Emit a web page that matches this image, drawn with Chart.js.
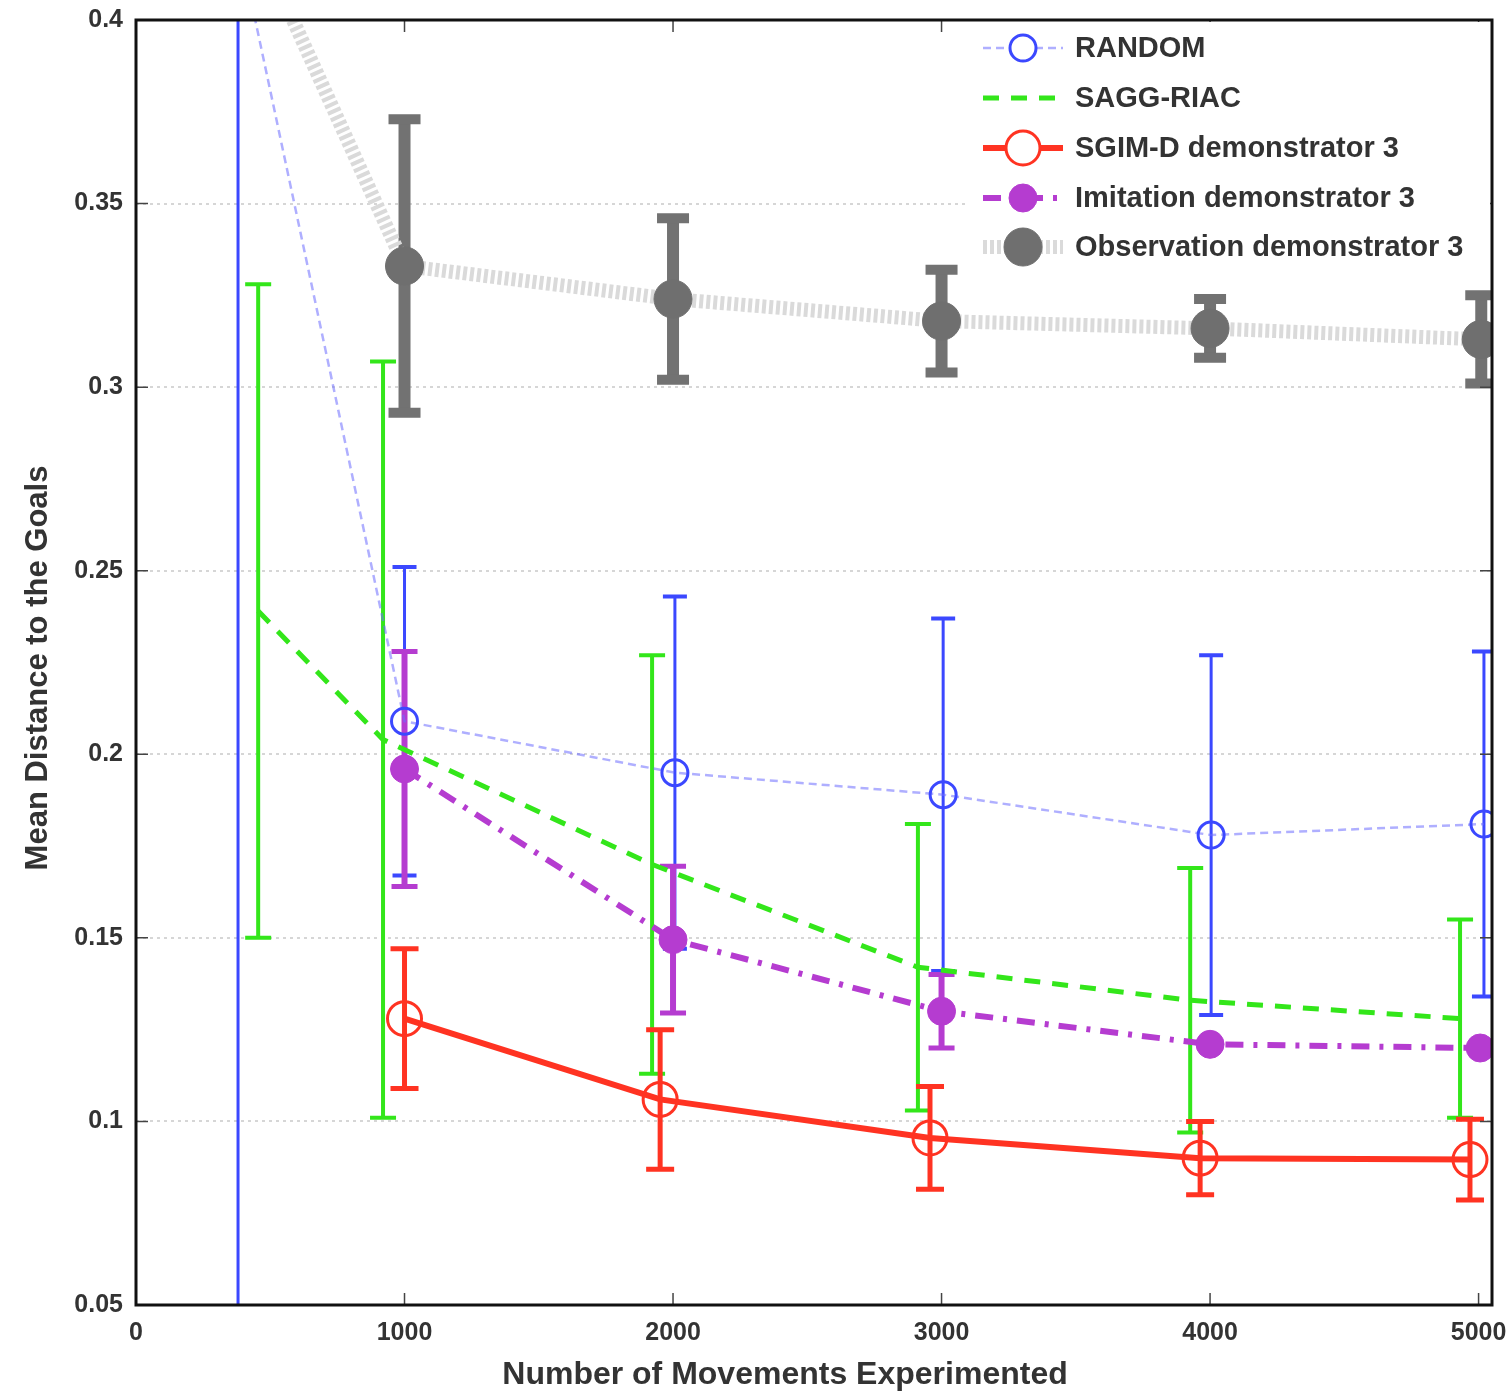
<!DOCTYPE html>
<html>
<head>
<meta charset="utf-8">
<script src="https://cdn.jsdelivr.net/npm/chart.js@4.4.1/dist/chart.umd.min.js"></script>
<style>
  html, body { margin: 0; padding: 0; background: #fff; }
  #wrap { width: 1506px; height: 1397px; }
</style>
</head>
<body>
<div id="wrap"><canvas id="chart" width="1506" height="1397"></canvas></div>
<script>
// ---- axis ticks ----
const xTicks = [0, 1000, 2000, 3000, 4000, 5000];
const xTickLabels = ["0", "1000", "2000", "3000", "4000", "5000"];
const yTicks = [0.05, 0.1, 0.15, 0.2, 0.25, 0.3, 0.35, 0.4];
const yTickLabels = ["0.05", "0.1", "0.15", "0.2", "0.25", "0.3", "0.35", "0.4"];

// ---- series (x position, mean, error half-width) ----
const randomX = [380, 1000, 2007, 3006, 4004, 5020];
const randomMean = [0.422, 0.209, 0.195, 0.189, 0.178, 0.181];
const randomErr = [0.40, 0.042, 0.048, 0.048, 0.049, 0.047];

const saggX = [455, 920, 1922, 2912, 3926, 4931];
const saggMean = [0.239, 0.204, 0.170, 0.142, 0.133, 0.128];
const saggErr = [0.089, 0.103, 0.057, 0.039, 0.036, 0.027];

const sgimX = [1000, 1952, 2957, 3963, 4968];
const sgimMean = [0.128, 0.106, 0.0955, 0.090, 0.0896];
const sgimErr = [0.019, 0.019, 0.014, 0.010, 0.011];

const imitX = [1000, 2000, 3000, 4000, 5006];
const imitMean = [0.196, 0.1495, 0.130, 0.121, 0.120];
const imitErr = [0.032, 0.020, 0.010, 0.0, 0.0];

const obsX = [380, 1000, 2000, 3000, 4000, 5010];
const obsMean = [0.433, 0.333, 0.324, 0.318, 0.316, 0.313];
const obsErr = [0, 0.040, 0.022, 0.014, 0.008, 0.012];

const seriesNames = ["RANDOM", "SAGG-RIAC", "SGIM-D demonstrator 3",
  "Imitation demonstrator 3", "Observation demonstrator 3"];

const xTitle = "Number of Movements Experimented";
const yTitle = "Mean Distance to the Goals";

const FONT = "'Liberation Sans', Arial, sans-serif";

function pts(xs, ys) {
  return xs.map((x, i) => ({ x: x, y: ys[i] }));
}

// error bars drawn under the lines
const errorBarPlugin = {
  id: "errorBars",
  beforeDatasetsDraw(chart) {
    const ctx = chart.ctx;
    const a = chart.chartArea;
    const xs = chart.scales.x, ys = chart.scales.y;
    ctx.save();
    ctx.beginPath();
    ctx.rect(a.left, a.top, a.right - a.left, a.bottom - a.top);
    ctx.clip();
    chart.data.datasets.forEach(ds => {
      const eb = ds.errorBars;
      if (!eb) return;
      ctx.strokeStyle = eb.color;
      ctx.setLineDash([]);
      ds.data.forEach((p, i) => {
        const e = eb.err[i];
        if (!e) return;
        const px = xs.getPixelForValue(p.x);
        const top = ys.getPixelForValue(p.y + e);
        const bot = ys.getPixelForValue(p.y - e);
        ctx.lineWidth = eb.width;
        ctx.beginPath();
        ctx.moveTo(px, top); ctx.lineTo(px, bot);
        ctx.stroke();
        ctx.lineWidth = eb.capWidth;
        ctx.beginPath();
        ctx.moveTo(px - eb.cap / 2, top); ctx.lineTo(px + eb.cap / 2, top);
        ctx.moveTo(px - eb.cap / 2, bot); ctx.lineTo(px + eb.cap / 2, bot);
        ctx.stroke();
      });
    });
    ctx.restore();
  }
};

// frame, inward ticks, axis titles and the legend box
const framePlugin = {
  id: "frame",
  afterDraw(chart) {
    const ctx = chart.ctx;
    const a = chart.chartArea;
    const xs = chart.scales.x, ys = chart.scales.y;
    ctx.save();
    ctx.setLineDash([]);
    ctx.strokeStyle = "#444";
    ctx.lineWidth = 1.5;
    xTicks.forEach(v => {
      const px = xs.getPixelForValue(v);
      ctx.beginPath();
      ctx.moveTo(px, a.bottom); ctx.lineTo(px, a.bottom - 12);
      ctx.moveTo(px, a.top); ctx.lineTo(px, a.top + 12);
      ctx.stroke();
    });
    yTicks.forEach(v => {
      const py = ys.getPixelForValue(v);
      ctx.beginPath();
      ctx.moveTo(a.left, py); ctx.lineTo(a.left + 12, py);
      ctx.moveTo(a.right, py); ctx.lineTo(a.right - 12, py);
      ctx.stroke();
    });

    // axis titles
    ctx.fillStyle = "#333";
    ctx.font = "bold 32px " + FONT;
    ctx.textAlign = "center";
    ctx.textBaseline = "middle";
    ctx.fillText(xTitle, 785, 1375);
    ctx.save();
    ctx.translate(38, 668);
    ctx.rotate(-Math.PI / 2);
    ctx.font = "bold 31px " + FONT;
    ctx.fillText(yTitle, 0, 0);
    ctx.restore();

    // legend
    const lx = 965, ly = a.top + 2, lw = a.right - lx - 2, lh = 252;
    ctx.fillStyle = "#fff";
    ctx.fillRect(lx, ly, lw, lh);
    const rowY = [48, 98, 148, 198, 247];
    chart.data.datasets.forEach((ds, i) => {
      const y = rowY[i];
      ctx.save();
      ctx.strokeStyle = ds.borderColor;
      ctx.lineWidth = ds.borderWidth;
      ctx.setLineDash(ds.borderDash || []);
      ctx.beginPath();
      ctx.moveTo(983, y); ctx.lineTo(1063, y);
      ctx.stroke();
      ctx.setLineDash([]);
      if (ds.pointRadius > 0) {
        ctx.beginPath();
        ctx.arc(1023, y, ds.pointRadius, 0, Math.PI * 2);
        ctx.fillStyle = ds.pointBackgroundColor === "rgba(0,0,0,0)" ? "#fff" : ds.pointBackgroundColor;
        ctx.fill();
        ctx.lineWidth = ds.pointBorderWidth;
        ctx.strokeStyle = ds.pointBorderColor;
        ctx.stroke();
      }
      ctx.restore();
      ctx.fillStyle = "#333";
      ctx.font = "bold 29px " + FONT;
      ctx.textBaseline = "middle";
      ctx.textAlign = "left";
      ctx.fillText(seriesNames[i], 1075, y + 1);
    });

    ctx.strokeStyle = "#111";
    ctx.lineWidth = 3;
    ctx.strokeRect(a.left, a.top, a.right - a.left, a.bottom - a.top);
    ctx.restore();
  }
};

new Chart(document.getElementById("chart"), {
  type: "scatter",
  data: {
    datasets: [
      {
        label: seriesNames[0],
        data: pts(randomX, randomMean),
        showLine: true,
        borderColor: "rgba(110,110,255,0.55)",
        borderWidth: 2.5,
        borderDash: [8, 5],
        pointRadius: 13,
        pointBorderWidth: 3,
        pointBorderColor: "#3b48ff",
        pointBackgroundColor: "rgba(0,0,0,0)",
        errorBars: { err: randomErr, color: "#3b48ff", width: 3, cap: 24, capWidth: 4 }
      },
      {
        label: seriesNames[1],
        data: pts(saggX, saggMean),
        showLine: true,
        borderColor: "#33e61a",
        borderWidth: 5,
        borderDash: [16, 12],
        pointRadius: 0,
        errorBars: { err: saggErr, color: "#33e61a", width: 4, cap: 26, capWidth: 4 }
      },
      {
        label: seriesNames[2],
        data: pts(sgimX, sgimMean),
        showLine: true,
        borderColor: "#ff3322",
        borderWidth: 6,
        pointRadius: 17,
        pointBorderWidth: 3,
        pointBorderColor: "#ff3322",
        pointBackgroundColor: "rgba(0,0,0,0)",
        errorBars: { err: sgimErr, color: "#ff3322", width: 5, cap: 28, capWidth: 5 }
      },
      {
        label: seriesNames[3],
        data: pts(imitX, imitMean),
        showLine: true,
        borderColor: "#b53cd0",
        borderWidth: 6,
        borderDash: [18, 10, 4, 10],
        pointRadius: 14,
        pointBorderWidth: 1,
        pointBorderColor: "#b53cd0",
        pointBackgroundColor: "#b53cd0",
        errorBars: { err: imitErr, color: "#b53cd0", width: 6, cap: 26, capWidth: 5 }
      },
      {
        label: seriesNames[4],
        data: pts(obsX, obsMean),
        showLine: true,
        borderColor: "#dadada",
        borderWidth: 14,
        borderDash: [4, 3],
        pointRadius: 19,
        pointBorderWidth: 1,
        pointBorderColor: "#6f6f6f",
        pointBackgroundColor: "#6f6f6f",
        errorBars: { err: obsErr, color: "#727272", width: 12, cap: 32, capWidth: 10 }
      }
    ]
  },
  options: {
    responsive: false,
    animation: false,
    layout: { autoPadding: false, padding: { top: 20, right: 14, left: 0, bottom: 0 } },
    plugins: { legend: { display: false }, tooltip: { enabled: false } },
    scales: {
      x: {
        type: "linear",
        min: 0,
        max: 5050,
        afterBuildTicks: s => { s.ticks = xTicks.map(v => ({ value: v })); },
        afterFit: s => { s.height = 92; s.paddingLeft = 0; s.paddingRight = 0; },
        grid: { display: false, drawTicks: false },
        border: { display: false },
        ticks: {
          padding: 13,
          color: "#333",
          maxRotation: 0,
          font: { family: FONT, size: 25, weight: "bold" },
          callback: (v, i) => xTickLabels[i]
        }
      },
      y: {
        type: "linear",
        min: 0.05,
        max: 0.4,
        afterBuildTicks: s => { s.ticks = yTicks.map(v => ({ value: v })); },
        afterFit: s => { s.width = 136; s.paddingTop = 0; s.paddingBottom = 0; },
        grid: { color: "#d6d6d6", lineWidth: 2, drawTicks: false },
        border: { display: false, dash: [3, 4] },
        ticks: {
          padding: 13,
          color: "#333",
          font: { family: FONT, size: 25, weight: "bold" },
          callback: (v, i) => yTickLabels[i]
        }
      }
    }
  },
  plugins: [errorBarPlugin, framePlugin]
});
</script>
</body>
</html>
